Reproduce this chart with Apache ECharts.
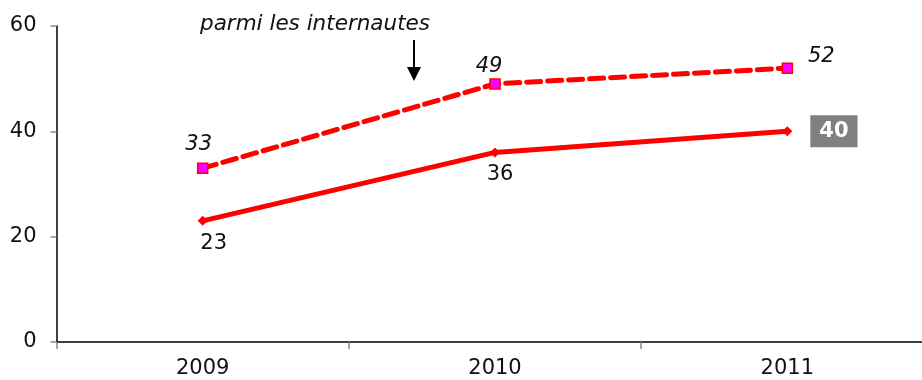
<!DOCTYPE html>
<html><head><meta charset="utf-8">
<script src="https://cdn.jsdelivr.net/npm/echarts@6/dist/echarts.min.js"></script>
<style>html,body{margin:0;padding:0;background:#fff}#c{width:922px;height:380px}</style>
</head><body><div id="c"></div>
<script>
const categories = ['2009', '2010', '2011'];
const totalValues = [23, 36, 40];
const internautesValues = [33, 49, 52];
const yTicks = [0, 20, 40, 60];
const annotation = 'parmi les internautes';

const FONT = 'DejaVu Sans';
const FS = 21;
const chart = echarts.init(document.getElementById('c'));
const lastIdx = totalValues.length - 1;
const topOffsets = [[-4, -2], [-6, 4], [34, 10]];
const bottomOffsets = [[11, 2], [5, 2]];

chart.setOption({
  animation: false,
  grid: { left: 56.5, width: 877, top: 26, bottom: 38, outerBoundsMode: 'none', containLabel: false },
  xAxis: {
    type: 'category', data: categories, boundaryGap: true,
    axisLine: { lineStyle: { color: '#000', width: 1.5 } },
    axisTick: { show: true, length: 7, lineStyle: { color: '#888', width: 1.5 } },
    axisLabel: { color: '#111', fontFamily: FONT, fontSize: FS, margin: 16 },
    splitLine: { show: false }
  },
  yAxis: {
    type: 'value', min: yTicks[0], max: yTicks[yTicks.length - 1], interval: 20,
    axisLine: { show: true, lineStyle: { color: '#000', width: 1.5 } },
    axisTick: { show: true, length: 6, lineStyle: { color: '#888', width: 1.5 } },
    axisLabel: { color: '#111', fontFamily: FONT, fontSize: FS, margin: 20 },
    splitLine: { show: false }
  },
  series: [
    {
      type: 'line', data: internautesValues.map((v, i) => ({
        value: v,
        label: {
          show: true, formatter: '{c}',
          position: 'top',
          offset: topOffsets[i],
          color: '#111', fontFamily: FONT, fontSize: FS, fontStyle: 'italic'
        }
      })),
      symbol: 'rect', symbolSize: 10,
      itemStyle: { color: '#ff00ff', borderColor: '#ff0000', borderWidth: 1.5 },
      lineStyle: { color: '#ff0000', width: 5, type: [14, 7], cap: 'round' },
      z: 3
    },
    {
      type: 'line', data: totalValues.map((v, i) => ({
        value: v,
        label: i === lastIdx ? {
          show: true, formatter: '{c}', position: 'right', distance: 18,
          color: '#fff', fontFamily: FONT, fontSize: FS, fontWeight: 'bold',
          backgroundColor: '#808080', padding: [6, 9, 5, 9]
        } : {
          show: true, formatter: '{c}', position: 'bottom', offset: bottomOffsets[i],
          color: '#111', fontFamily: FONT, fontSize: FS
        }
      })),
      symbol: 'diamond', symbolSize: 10,
      itemStyle: { color: '#ff0000' },
      lineStyle: { color: '#ff0000', width: 5 },
      z: 4
    }
  ],
  graphic: [
    { type: 'text', left: 200, top: 13,
      style: { text: annotation, font: 'italic 21.5px "DejaVu Sans"', fill: '#111' } },
    { type: 'line', shape: { x1: 414, y1: 40, x2: 414, y2: 70 }, style: { stroke: '#000', lineWidth: 2 } },
    { type: 'polygon', shape: { points: [[407, 67], [421, 67], [414, 81]] }, style: { fill: '#000' } }
  ]
});
</script></body></html>
